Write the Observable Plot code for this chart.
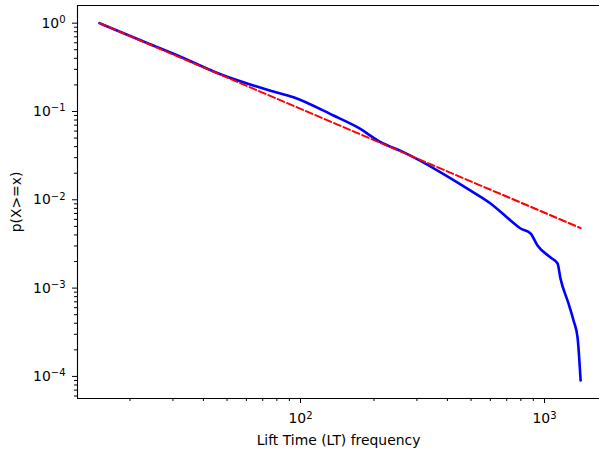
<!DOCTYPE html>
<html><head><meta charset="utf-8">
<script src="https://cdn.jsdelivr.net/npm/d3@7"></script>
<script src="https://cdn.jsdelivr.net/npm/@observablehq/plot@0.6"></script>
<style>body{margin:0;background:#fff;} #chart svg{display:block;}</style>
</head><body><div id="chart"></div>
<script>
const ltX = [15, 23.5, 32.2, 47, 75.3, 93.6, 136.5, 171, 213, 264, 375, 498, 601, 726, 798, 877, 936, 1059, 1131, 1163, 1254, 1315, 1366, 1406];
const ccdfY = [1.0, 0.597, 0.417, 0.264, 0.172, 0.145, 0.090, 0.0664, 0.0449, 0.0346, 0.0205, 0.0127, 0.00908, 0.00583, 0.00473, 0.00415, 0.00304, 0.00222, 0.0019, 0.00128, 0.00067, 0.00043, 0.000275, 0.00009];
// Power-law fit (red dashed), straight in log-log
const fitX = [15, 1406];
const fitY = [1.0, 0.00478];
// Ticks
const yMajor = [1, 0.1, 0.01, 0.001, 0.0001];
const yExp = ["0", "−1", "−2", "−3", "−4"];
const xMajor = [100, 1000];
const xExp = ["2", "3"];
const mult = [2, 3, 4, 5, 6, 7, 8, 9];
const xMinor = [10, 100, 1000].flatMap(d => mult.map(m => m * d));
const yMinor = [0.00001, 0.0001, 0.001, 0.01, 0.1, 1].flatMap(d => mult.map(m => m * d));

const blue = ltX.map((x, i) => ({x, y: ccdfY[i]}));
const fit = fitX.map((x, i) => ({x, y: fitY[i]}));

const xDom = [Math.pow(10, 1.086), Math.pow(10, 3.2254)];
const yDom = [Math.pow(10, -4.25), Math.pow(10, 0.2)];

const chart = Plot.plot({
  width: 599, height: 450,
  marginLeft: 77, marginRight: 0, marginTop: 5, marginBottom: 52,
  style: {fontFamily: "DejaVu Sans", fontSize: "13.9px", color: "#000", background: "#fff"},
  x: {type: "log", domain: xDom},
  y: {type: "log", domain: yDom},
  marks: [
    Plot.axisX({ticks: xMinor.filter(v => v > xDom[0] && v < xDom[1]), tickSize: 3, text: null, label: null}),
    Plot.axisY({ticks: yMinor.filter(v => v > yDom[0] && v < yDom[1]), tickSize: 3, text: null, label: null}),
    Plot.axisX({ticks: xMajor, tickSize: 5, tickPadding: 10,
      tickFormat: d => "10^" + xExp[xMajor.indexOf(d)],
      label: "Lift Time (LT) frequency", labelAnchor: "center", labelArrow: "none", labelOffset: 46}),
    Plot.axisY({ticks: yMajor, tickSize: 5, tickPadding: 7,
      tickFormat: d => "10^" + yExp[yMajor.indexOf(d)],
      label: "p(X>=x)", labelAnchor: "center", labelArrow: "none", labelOffset: 66}),
    Plot.ruleX([xDom[0]], {stroke: "#000", strokeWidth: 1.1}),
    Plot.ruleY([yDom[0], yDom[1]], {stroke: "#000", strokeWidth: 1.1}),
    Plot.line(blue, {x: "x", y: "y", stroke: "#0000ff", strokeWidth: 2.6, curve: "monotone-x"}),
    Plot.line(fit, {x: "x", y: "y", stroke: "#ff0000", strokeWidth: 2, strokeDasharray: "7,3.2"})
  ]
});

// Render "10^e" tick labels with a superscript exponent
d3.select(chart).selectAll("text").each(function() {
  const t = this.textContent;
  const m = /^10\^(.+)$/.exec(t);
  if (!m) return;
  const sel = d3.select(this);
  sel.text(null);
  sel.append("tspan").text("10");
  sel.append("tspan").attr("dy", "-0.45em").attr("font-size", "72%").text(m[1]);
});
document.getElementById("chart").appendChild(chart);
</script>
</body></html>
